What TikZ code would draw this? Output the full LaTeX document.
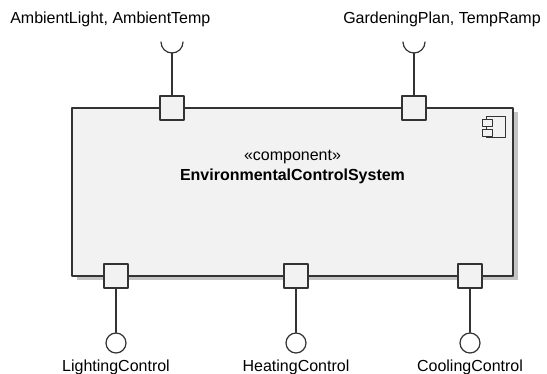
\documentclass[tikz,border=0pt]{standalone}
\usepackage{fontspec}
\setmainfont{Liberation Sans}
\usetikzlibrary{positioning,calc}
\definecolor{linegray}{HTML}{333333}
\definecolor{boxfill}{HTML}{F2F2F2}
\definecolor{shadowgray}{HTML}{C4C4C4}
\tikzset{
  compbox/.style={draw=linegray,fill=boxfill,line width=0.9pt,minimum width=330.75pt,minimum height=126pt,inner sep=0pt},
  port/.style={draw=linegray,fill=boxfill,line width=0.9pt,minimum size=18pt,inner sep=0pt},
  ball/.style={circle,draw=linegray,fill=white,line width=0.9pt,minimum size=15pt,inner sep=0pt},
  wire/.style={draw=linegray,line width=0.9pt},
  lbl/.style={inner sep=0pt,font=\fontsize{12}{14}\selectfont},
}
\begin{document}
\begin{tikzpicture}[x=0.75pt,y=-0.75pt,line cap=round,line join=round]
  \useasboundingbox (0,0) rectangle (547,374);
  % component
  \fill[shadowgray] (76.5,112.5) rectangle (517.5,280.5);
  \node[compbox] (ecs) at (292.5,192) {};
  \node[lbl,anchor=base] (stereo) at (292.5,161) {«component»};
  \node[lbl,anchor=base,font=\fontsize{12}{14}\selectfont\bfseries] (ecsname) at (292.5,181) {EnvironmentalControlSystem};
  % component icon
  \draw[linegray,line width=0.7pt] (486,116) rectangle (505,137);
  \draw[linegray,fill=boxfill,line width=0.7pt] (482,119) rectangle (492,126);
  \draw[linegray,fill=boxfill,line width=0.7pt] (482,129) rectangle (492,136);
  % required ports (top)
  \node[port] (pamb) at (172,108) {};
  \node[port] (pgar) at (414,108) {};
  \coordinate (samb) at (172,53);
  \coordinate (sgar) at (414,53);
  \draw[wire] (pamb.north) -- (samb);
  \draw[wire] (pgar.north) -- (sgar);
  \foreach \s in {samb,sgar}
    \draw[wire] ($(\s)+(-11,-11)$) .. controls ($(\s)+(-11,-4.9)$) and ($(\s)+(-6.1,0)$) .. (\s)
      .. controls ($(\s)+(6.1,0)$) and ($(\s)+(11,-4.9)$) .. ($(\s)+(11,-11)$);
  \node[lbl,anchor=base west] (lamb) at (10,24) {AmbientLight, AmbientTemp};
  \node[lbl,anchor=base west] (lgar) at (343,24) {GardeningPlan, TempRamp};
  % provided ports (bottom)
  \node[port] (plig) at (116,276) {};
  \node[port] (phea) at (296,276) {};
  \node[port] (pcoo) at (470,276) {};
  \node[ball] (blig) at (116,343) {};
  \node[ball] (bhea) at (296,343) {};
  \node[ball] (bcoo) at (470,343) {};
  \draw[wire] (plig.south) -- (blig.north);
  \draw[wire] (phea.south) -- (bhea.north);
  \draw[wire] (pcoo.south) -- (bcoo.north);
  \node[lbl,anchor=base] (llig) at (116,372) {LightingControl};
  \node[lbl,anchor=base] (lhea) at (296,372) {HeatingControl};
  \node[lbl,anchor=base] (lcoo) at (470,372) {CoolingControl};
\end{tikzpicture}
\end{document}
